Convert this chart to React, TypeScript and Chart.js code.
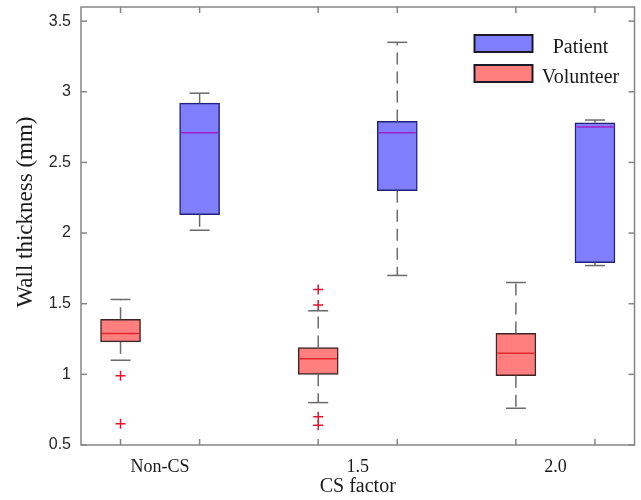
import React, { useEffect, useRef } from 'react';
import { Chart, registerables } from 'chart.js';

Chart.register(...registerables);

// ---- data ----
const categories = ['Non-CS', '1.5', '2.0'];
const seriesNames = ['Patient', 'Volunteer'];

const patientMin = [2.02, 1.70, 1.77];
const patientQ1 = [2.13, 2.30, 1.79];
const patientMedian = [2.71, 2.71, 2.75];
const patientQ3 = [2.92, 2.79, 2.78];
const patientMax = [2.99, 3.35, 2.80];

const volunteerMin = [1.10, 0.80, 0.76];
const volunteerQ1 = [1.23, 1.00, 0.99];
const volunteerMedian = [1.29, 1.11, 1.15];
const volunteerQ3 = [1.39, 1.19, 1.29];
const volunteerMax = [1.53, 1.45, 1.65];
const volunteerOutliers = [[0.99, 0.65], [1.60, 1.49, 0.70, 0.64], []];

const yTickValues = [0.5, 1, 1.5, 2, 2.5, 3, 3.5];
const yTitle = 'Wall thickness (mm)';
const xTitle = 'CS factor';

// ---- layout / style constants ----
const VOL_OFFSET = -0.2;
const PAT_OFFSET = 0.2;
const SERIF = "'Liberation Serif', 'Times New Roman', serif";
const SANS = "'Liberation Sans', Arial, sans-serif";
const PAT_FILL = '#7f7ffe';
const PAT_BORDER = '#22227a';
const PAT_MEDIAN = '#a021c8';
const VOL_FILL = '#ff7f7f';
const VOL_BORDER = '#3e2424';
const VOL_MEDIAN = '#e0282e';
const OUTLIER = '#e3142a';
const WHISKER = '#6a6a6a';
const AXIS = '#858585';
const TEXT = '#1a1a1a';

export default function App() {
  const ref = useRef<HTMLCanvasElement>(null);

  useEffect(() => {
    const canvas = ref.current;
    if (!canvas) return;

    const line = (ctx: CanvasRenderingContext2D, x1: number, y1: number, x2: number, y2: number) => {
      ctx.beginPath();
      ctx.moveTo(x1, y1);
      ctx.lineTo(x2, y2);
      ctx.stroke();
    };

    const boxPlugin = {
      id: 'boxExtras',
      afterDatasetsDraw(chart: any) {
        const { ctx, chartArea: a, scales } = chart;
        const ys = scales.y;
        const series = [
          { meta: chart.getDatasetMeta(0), min: patientMin, max: patientMax, q1: patientQ1, q3: patientQ3, med: patientMedian, medColor: PAT_MEDIAN },
          { meta: chart.getDatasetMeta(1), min: volunteerMin, max: volunteerMax, q1: volunteerQ1, q3: volunteerQ3, med: volunteerMedian, medColor: VOL_MEDIAN },
        ];
        ctx.save();
        ctx.lineCap = 'butt';
        for (const s of series) {
          s.meta.data.forEach((bar: any, i: number) => {
            const { x: cx, width } = bar.getProps(['x', 'width'], true);
            const half = width / 2;
            const capHalf = width / 4;
            ctx.strokeStyle = WHISKER;
            ctx.lineWidth = 1.5;
            ctx.setLineDash([12, 7]);
            line(ctx, cx, ys.getPixelForValue(s.q3[i]), cx, ys.getPixelForValue(s.max[i]));
            line(ctx, cx, ys.getPixelForValue(s.q1[i]), cx, ys.getPixelForValue(s.min[i]));
            ctx.setLineDash([]);
            line(ctx, cx - capHalf, ys.getPixelForValue(s.max[i]), cx + capHalf, ys.getPixelForValue(s.max[i]));
            line(ctx, cx - capHalf, ys.getPixelForValue(s.min[i]), cx + capHalf, ys.getPixelForValue(s.min[i]));
            ctx.strokeStyle = s.medColor;
            ctx.lineWidth = 1.5;
            const my = ys.getPixelForValue(s.med[i]);
            line(ctx, cx - half + 1.5, my, cx + half - 1.5, my);
          });
        }

        // frame
        ctx.strokeStyle = AXIS;
        ctx.lineWidth = 1.5;
        ctx.strokeRect(a.left, a.top, a.right - a.left, a.bottom - a.top);
        // y ticks (inward, both sides)
        for (const v of yTickValues) {
          const py = ys.getPixelForValue(v);
          line(ctx, a.left, py, a.left + 6, py);
          line(ctx, a.right - 6, py, a.right, py);
        }
        // x ticks at box positions (inward, top and bottom)
        for (const s of series) {
          s.meta.data.forEach((bar: any) => {
            const { x: cx } = bar.getProps(['x'], true);
            line(ctx, cx, a.bottom, cx, a.bottom - 6);
            line(ctx, cx, a.top, cx, a.top + 6);
          });
        }

        // legend
        const items = [
          { label: seriesNames[0], fill: PAT_FILL },
          { label: seriesNames[1], fill: VOL_FILL },
        ];
        ctx.font = `20px ${SERIF}`;
        ctx.textAlign = 'center';
        ctx.textBaseline = 'alphabetic';
        items.forEach((it, k) => {
          const px = a.right - 160;
          const py = a.top + 28 + k * 30;
          ctx.fillStyle = it.fill;
          ctx.fillRect(px, py, 58, 17);
          ctx.strokeStyle = '#1a1a26';
          ctx.lineWidth = 2;
          ctx.strokeRect(px, py, 58, 17);
          ctx.fillStyle = TEXT;
          ctx.fillText(it.label, a.right - 54, py + 17.5);
        });

        // y-axis title (rotated)
        ctx.save();
        ctx.translate(26, (a.top + a.bottom) / 2 - 14);
        ctx.rotate(-Math.PI / 2);
        ctx.font = `23px ${SERIF}`;
        ctx.fillStyle = TEXT;
        ctx.textAlign = 'center';
        ctx.textBaseline = 'middle';
        ctx.fillText(yTitle, 0, 0);
        ctx.restore();

        ctx.restore();
      },
    };

    const chart = new Chart(canvas, {
      type: 'bar',
      data: {
        datasets: [
          {
            type: 'bar',
            label: seriesNames[0],
            data: categories.map((_, i) => ({ x: i + PAT_OFFSET, y: [patientQ1[i], patientQ3[i]] })) as any,
            backgroundColor: PAT_FILL,
            borderColor: PAT_BORDER,
            borderWidth: 1.5,
            borderSkipped: false,
            grouped: false,
            barPercentage: 1,
            categoryPercentage: 1,
            maxBarThickness: 40,
          },
          {
            type: 'bar',
            label: seriesNames[1],
            data: categories.map((_, i) => ({ x: i + VOL_OFFSET, y: [volunteerQ1[i], volunteerQ3[i]] })) as any,
            backgroundColor: VOL_FILL,
            borderColor: VOL_BORDER,
            borderWidth: 1.5,
            borderSkipped: false,
            grouped: false,
            barPercentage: 1,
            categoryPercentage: 1,
            maxBarThickness: 40,
          },
          {
            type: 'scatter',
            label: 'Outliers',
            data: volunteerOutliers.flatMap((arr, i) => arr.map((v) => ({ x: i + VOL_OFFSET, y: v }))) as any,
            pointStyle: 'cross',
            radius: 5,
            borderColor: OUTLIER,
            backgroundColor: OUTLIER,
            borderWidth: 1.5,
          } as any,
        ],
      },
      options: {
        responsive: false,
        animation: false,
        events: [],
        layout: { padding: { top: 7, right: 6, left: 0, bottom: 0 } },
        plugins: {
          legend: { display: false },
          tooltip: { enabled: false },
          title: { display: false },
        },
        scales: {
          x: {
            type: 'linear',
            min: -0.4,
            max: 2.4,
            offset: false,
            grid: { display: false },
            border: { display: false },
            afterBuildTicks: (scale: any) => {
              scale.ticks = categories.map((_, i) => ({ value: i }));
            },
            afterFit: (scale: any) => {
              scale.height = 55;
              scale.paddingLeft = 0;
              scale.paddingRight = 0;
            },
            ticks: {
              autoSkip: false,
              maxRotation: 0,
              padding: 3,
              color: TEXT,
              font: { family: SERIF, size: 18 },
              callback: (_v: any, i: number) => categories[i],
            },
            title: {
              display: true,
              text: xTitle,
              color: TEXT,
              font: { family: SERIF, size: 20 },
              padding: { top: 0, bottom: 1 },
            },
          },
          y: {
            type: 'linear',
            min: 0.5,
            max: 3.6,
            grid: { display: false },
            border: { display: false },
            afterBuildTicks: (scale: any) => {
              scale.ticks = yTickValues.map((v) => ({ value: v }));
            },
            afterFit: (scale: any) => {
              scale.width = 81;
              scale.paddingTop = 0;
              scale.paddingBottom = 0;
            },
            ticks: {
              padding: 2,
              color: '#262626',
              font: { family: SANS, size: 16 },
              callback: (v: any) => String(v),
            },
            title: { display: false },
          },
        },
      } as any,
      plugins: [boxPlugin],
    });

    return () => chart.destroy();
  }, []);

  return (
    <div style={{ position: 'absolute', left: 0, top: 0, width: 641, height: 500, background: '#ffffff' }}>
      <canvas ref={ref} width={641} height={500} />
    </div>
  );
}
